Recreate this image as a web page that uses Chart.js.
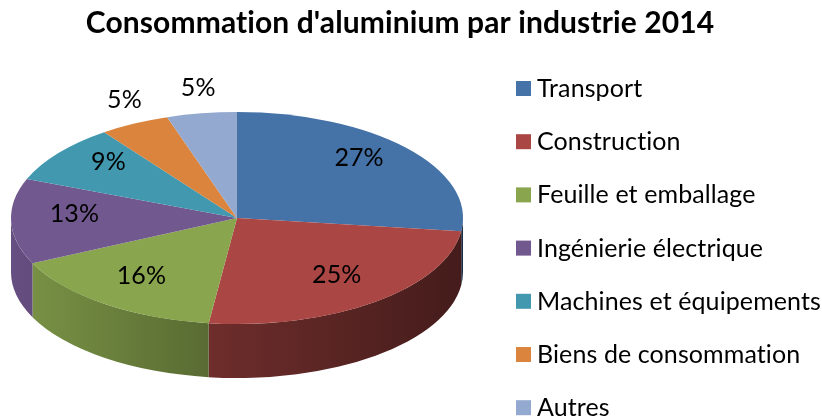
<!DOCTYPE html>
<html>
<head>
<meta charset="utf-8">
<script src="https://cdn.jsdelivr.net/npm/chart.js@4/dist/chart.umd.min.js"></script>
<style>
  body { margin: 0; background: #fff; }
  #box { width: 822px; height: 418px; }
</style>
</head>
<body>
<div id="box"><canvas id="graphique"></canvas></div>
<script>
const categories = ['Transport', 'Construction', 'Feuille et emballage', 'Ingénierie électrique',
                    'Machines et équipements', 'Biens de consommation', 'Autres'];
const valeurs = [27, 25, 16, 13, 9, 5, 5];
const couleurs = ['#4572A7', '#AA4643', '#89A54E', '#71588F', '#4198AF', '#DB843D', '#93A9CF'];

// geometrie de la tarte "3D" (ellipse + epaisseur)
const CX = 237, CY = 218, RX = 226, RY = 106, EPAIS = 54;

function assombrir(hex, f) {
    const n = parseInt(hex.slice(1), 16);
    const r = Math.round(((n >> 16) & 255) * f);
    const g = Math.round(((n >> 8) & 255) * f);
    const b = Math.round((n & 255) * f);
    return `rgb(${r},${g},${b})`;
}

const tarte3d = {
    id: 'tarte3d',
    beforeDraw(chart) {
        // un petit espacement coupe les ligatures "ti" de Lato
        chart.ctx.letterSpacing = '0.1px';
    },
    beforeDatasetsDraw(chart) {
        const ctx = chart.ctx;
        const arcs = chart.getDatasetMeta(0).data;

        // cotes visibles (moitie avant de l'ellipse)
        arcs.forEach((arc, i) => {
            const a1 = Math.max(arc.startAngle, 0);
            const a2 = Math.min(arc.endAngle, Math.PI);
            if (a1 >= a2) return;
            const grad = ctx.createLinearGradient(CX - RX, 0, CX + RX, 0);
            grad.addColorStop(0, assombrir(couleurs[i], 0.9));
            grad.addColorStop(0.45, assombrir(couleurs[i], 0.64));
            grad.addColorStop(1, assombrir(couleurs[i], 0.4));
            ctx.save();
            ctx.beginPath();
            ctx.ellipse(CX, CY, RX, RY, 0, a1, a2);
            ctx.ellipse(CX, CY + EPAIS, RX, RY, 0, a2, a1, true);
            ctx.closePath();
            ctx.fillStyle = grad;
            ctx.fill();
            ctx.restore();
        });

        // face du dessus : on ecrase le cercle en ellipse
        const a = arcs[0];
        ctx.save();
        ctx.translate(CX, CY);
        ctx.scale(RX / a.outerRadius, RY / a.outerRadius);
        ctx.translate(-a.x, -a.y);
    },
    afterDatasetsDraw(chart) {
        const ctx = chart.ctx;
        ctx.restore();

        const arcs = chart.getDatasetMeta(0).data;
        ctx.save();
        ctx.font = '25px Lato';
        ctx.fillStyle = '#000';
        ctx.textAlign = 'center';
        ctx.textBaseline = 'middle';
        arcs.forEach((arc, i) => {
            const m = (arc.startAngle + arc.endAngle) / 2;
            let x, y;
            if (valeurs[i] >= 9) {
                x = CX + 0.72 * RX * Math.cos(m);
                y = CY - 7 + 0.76 * RY * Math.sin(m);
            } else {
                // petites parts : etiquette a l'exterieur
                x = CX + RX * Math.cos(m) + 22 * Math.cos(m);
                y = CY + RY * Math.sin(m) + 22 * Math.sin(m) - 4;
            }
            ctx.fillText(valeurs[i] + '%', x, y);
        });
        ctx.restore();
    },
    afterDraw(chart) {
        // legende a droite
        const ctx = chart.ctx;
        ctx.save();
        ctx.font = '25px Lato';
        ctx.textBaseline = 'middle';
        categories.forEach((nom, i) => {
            const y = 88 + i * 53.2;
            ctx.fillStyle = couleurs[i];
            ctx.fillRect(516, y - 7, 15, 15);
            ctx.fillStyle = '#000';
            ctx.fillText(nom, 537, y + 1);
        });
        ctx.restore();
    }
};

new Chart(document.getElementById('graphique'), {
    type: 'pie',
    data: {
        labels: categories,
        datasets: [{
            data: valeurs,
            backgroundColor: couleurs,
            borderWidth: 0
        }]
    },
    options: {
        responsive: true,
        maintainAspectRatio: false,
        animation: false,
        layout: { padding: { right: 22 } },
        plugins: {
            legend: { display: false },
            tooltip: { enabled: false },
            title: {
                display: true,
                text: "Consommation d'aluminium par industrie 2014",
                color: '#000',
                font: { family: 'Lato', size: 30, weight: 'bold' },
                padding: { top: 5, bottom: 10 }
            }
        }
    },
    plugins: [tarte3d]
});
</script>
</body>
</html>
